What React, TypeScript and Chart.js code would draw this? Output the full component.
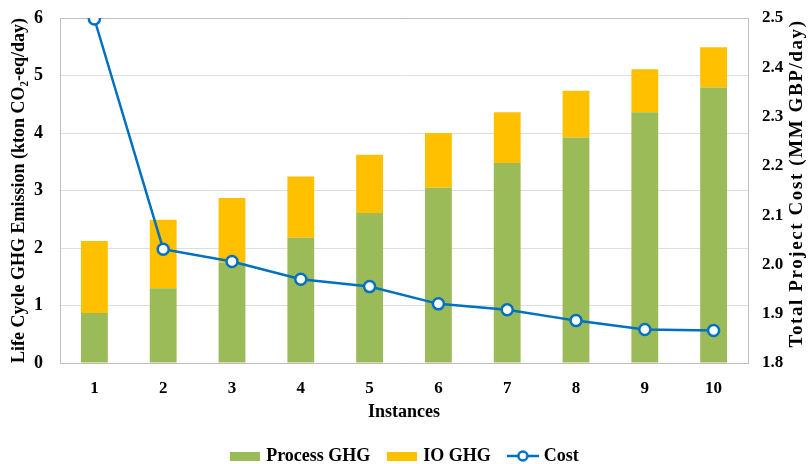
import React, { useEffect, useRef } from "react";
import { Chart, registerables } from "chart.js";

Chart.register(...registerables);

const instances = ["1", "2", "3", "4", "5", "6", "7", "8", "9", "10"];
const processGHG = [0.87, 1.3, 1.75, 2.18, 2.61, 3.05, 3.48, 3.92, 4.36, 4.79];
const ioGHG = [1.25, 1.19, 1.12, 1.065, 1.01, 0.95, 0.88, 0.815, 0.75, 0.7];
const cost = [2.498, 2.031, 2.006, 1.97, 1.955, 1.92, 1.908, 1.886, 1.868, 1.866];
const rightTitleText = "Total Project Cost (MM GBP/day)";

const GREEN = "#9BBB59";
const ORANGE = "#FFC000";
const BLUE = "#0070C0";
const FONT = "'Times New Roman', 'Liberation Serif', serif";

function rectImg(color: string) {
  const c = document.createElement("canvas");
  c.width = 30;
  c.height = 9;
  const g = c.getContext("2d")!;
  g.fillStyle = color;
  g.fillRect(0, 0, 30, 9);
  return c;
}
function lineImg() {
  const c = document.createElement("canvas");
  c.width = 32;
  c.height = 14;
  const g = c.getContext("2d")!;
  g.strokeStyle = BLUE;
  g.lineWidth = 2.5;
  g.beginPath();
  g.moveTo(0, 7);
  g.lineTo(32, 7);
  g.stroke();
  g.beginPath();
  g.arc(16, 7, 4.5, 0, Math.PI * 2);
  g.fillStyle = "#fff";
  g.fill();
  g.stroke();
  return c;
}

const rightTitle = {
  id: "rightTitle",
  afterDraw(chart: any) {
    const ctx = chart.ctx;
    const ca = chart.chartArea;
    ctx.save();
    ctx.translate(chart.width - 15, (ca.top + ca.bottom) / 2 - 7);
    ctx.rotate(-Math.PI / 2);
    ctx.font = `bold 19px ${FONT}`;
    try {
      (ctx as any).letterSpacing = "1.6px";
    } catch (e) {}
    ctx.textAlign = "center";
    ctx.textBaseline = "middle";
    ctx.fillStyle = "#000";
    ctx.fillText(rightTitleText, 0, 0);
    ctx.restore();
  },
};

const noVPad = (s: any) => {
  s.paddingTop = 0;
  s.paddingBottom = 0;
};

export default function App() {
  const ref = useRef<HTMLCanvasElement | null>(null);
  useEffect(() => {
    document.body.style.margin = "0";
    const imgs = [rectImg(GREEN), rectImg(ORANGE), lineImg()];
    const chart = new Chart(ref.current!, {
      type: "bar",
      plugins: [rightTitle],
      data: {
        labels: instances,
        datasets: [
          {
            type: "bar",
            label: "Process GHG",
            data: processGHG,
            backgroundColor: GREEN,
            yAxisID: "y",
            order: 1,
            barPercentage: 0.39,
            categoryPercentage: 1,
          },
          {
            type: "bar",
            label: "IO GHG",
            data: ioGHG,
            backgroundColor: ORANGE,
            yAxisID: "y",
            order: 1,
            barPercentage: 0.39,
            categoryPercentage: 1,
          },
          {
            type: "line",
            label: "Cost",
            data: cost,
            borderColor: BLUE,
            borderWidth: 2.5,
            pointRadius: 5.5,
            pointBorderWidth: 2.5,
            pointBackgroundColor: "#ffffff",
            pointBorderColor: BLUE,
            yAxisID: "y2",
            order: 0,
            tension: 0,
          } as any,
        ],
      },
      options: {
        responsive: true,
        maintainAspectRatio: false,
        animation: false,
        layout: { padding: { top: 18, left: 0, right: 0, bottom: -11 } },
        plugins: {
          tooltip: { enabled: false },
          legend: {
            position: "bottom",
            labels: {
              usePointStyle: true,
              pointStyleWidth: 24,
              padding: 20,
              color: "#000",
              font: { family: FONT, size: 18, weight: "bold" },
              sort: (a: any, b: any) => a.datasetIndex - b.datasetIndex,
              generateLabels: (ch: any) => {
                const items = Chart.defaults.plugins.legend.labels.generateLabels(ch);
                items.forEach((it: any) => {
                  it.pointStyle = imgs[it.datasetIndex];
                });
                return items;
              },
            },
          },
        },
        scales: {
          x: {
            stacked: true,
            afterFit: (s: any) => {
              s.height = 64;
            },
            grid: { display: false, drawTicks: false },
            border: { display: true, color: "#bfbfbf", width: 1 },
            ticks: { color: "#000", padding: 15, font: { family: FONT, size: 17, weight: "bold" } },
            title: {
              display: true,
              text: "Instances",
              color: "#000",
              padding: { top: 0, bottom: 4 },
              font: { family: FONT, size: 18, weight: "bold" },
            },
          },
          y: {
            stacked: true,
            position: "left",
            min: 0,
            max: 6,
            afterFit: (s: any) => {
              s.width = 60;
              noVPad(s);
            },
            grid: {
              drawTicks: false,
              color: (ctx: any) => (ctx.tick && ctx.tick.value === 6 ? "#bfbfbf" : "#dedede"),
            },
            border: { display: true, color: "#bfbfbf" },
            ticks: { stepSize: 1, color: "#000", padding: 17, font: { family: FONT, size: 18, weight: "bold" } },
            title: {
              display: true,
              text: "Life Cycle GHG Emission (kton CO₂-eq/day)",
              color: "#000",
              padding: { top: 9, bottom: 0 },
              font: { family: FONT, size: 18, weight: "bold" },
            },
          },
          y2: {
            position: "right",
            min: 1.8,
            max: 2.5,
            afterFit: (s: any) => {
              s.width = 64;
              noVPad(s);
            },
            grid: { drawOnChartArea: false, drawTicks: false },
            border: { display: true, color: "#bfbfbf" },
            ticks: {
              stepSize: 0.1,
              color: "#000",
              padding: 14,
              font: { family: FONT, size: 17, weight: "bold" },
              callback: (v: any) => Number(v).toFixed(1),
            },
          },
        },
      },
    });
    return () => chart.destroy();
  }, []);
  return (
    <div style={{ position: "absolute", left: 0, top: 0, width: 812, height: 464 }}>
      <canvas ref={ref} />
    </div>
  );
}
